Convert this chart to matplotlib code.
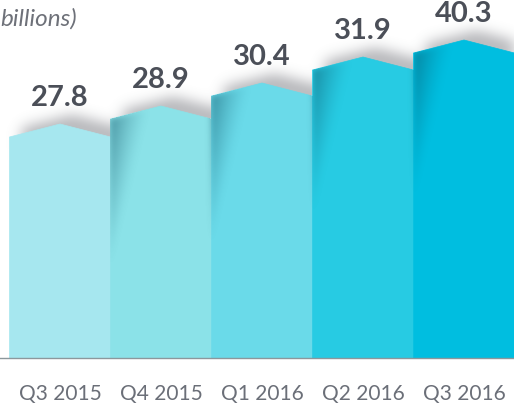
import numpy as np
import matplotlib
matplotlib.use('Agg')
import matplotlib.pyplot as plt
from matplotlib.path import Path
from matplotlib.patches import Polygon

# ---- data ----
quarters = ["Q3 2015", "Q4 2015", "Q1 2016", "Q2 2016", "Q3 2016"]
values = [27.8, 28.9, 30.4, 31.9, 40.3]
# drawn heights of the bar peaks (the original chart is stylised, not to scale)
shape_heights = [23.4, 25.2, 27.5, 30.1, 31.8]
bar_colors = ["#A6E7EF", "#8BE2E8", "#6ADAE9", "#27CBE3", "#00BEE0"]
title_text = "billions)"

# ---- layout ----
W, H = 514, 404
fig = plt.figure(figsize=(W / 100, H / 100), dpi=100)
base_px = 46
ax = fig.add_axes([0, base_px / H, 1, 1 - base_px / H])
XMIN, XMAX = -0.594, 4.495
YMAX = 35.8
DROP = 1.3


def pent(i, h, dx=0.0, dy=0.0):
    c = i + dx
    return [(c - 0.5, dy), (c - 0.5, h - DROP + dy), (c, h + dy),
            (c + 0.5, h - DROP + dy), (c + 0.5, dy)]


def top_edge(x, c, h):
    return h - DROP * np.clip(np.abs(x - c) / 0.5, 0, 1)


def blur(a, s):
    r = int(3 * s)
    k = np.exp(-0.5 * (np.arange(-r, r + 1) / s) ** 2)
    k /= k.sum()
    a = np.apply_along_axis(lambda v: np.convolve(v, k, mode='same'), 0, a)
    a = np.apply_along_axis(lambda v: np.convolve(v, k, mode='same'), 1, a)
    return a


nx, ny = W, H - base_px
xs = XMIN + (np.arange(nx) + 0.5) * (XMAX - XMIN) / nx
ys = YMAX - (np.arange(ny) + 0.5) * YMAX / ny
X, Y = np.meshgrid(xs, ys)
pts = np.column_stack([X.ravel(), Y.ravel()])
px_x = nx / (XMAX - XMIN)
px_y = ny / YMAX

# ---- drop shadows behind bars (cast up and to the right) ----
sh = np.zeros((ny, nx))
for i, h in enumerate(shape_heights):
    dx, dy = 0.12, 0.8
    inside = Path(pent(i, h, dx, dy)).contains_points(pts).reshape(ny, nx)
    depth = (top_edge(X, i + dx, h + dy) - Y) * px_y
    sh = np.maximum(sh, inside * np.exp(-np.clip(depth, 0, None) / 30))
sh = blur(sh, 7)
rgba = np.zeros((ny, nx, 4))
rgba[..., 0], rgba[..., 1], rgba[..., 2] = 0.33, 0.34, 0.37
rgba[..., 3] = np.clip(0.6 * sh, 0, 1)
ax.imshow(rgba, extent=(XMIN, XMAX, 0, YMAX), origin='upper', aspect='auto',
          zorder=1, interpolation='bilinear')

# ---- bars ----
for i, h in enumerate(shape_heights):
    ax.add_patch(Polygon(pent(i, h), closed=True, facecolor=bar_colors[i],
                         edgecolor=bar_colors[i], lw=0.5, zorder=2))

# ---- left-edge fold shading ----
wd = np.zeros((ny, nx))
bar_mask = np.zeros((ny, nx), dtype=bool)
for i, h in enumerate(shape_heights):
    inside = Path(pent(i, h)).contains_points(pts).reshape(ny, nx)
    if i == 0:
        continue
    bar_mask |= inside
    dxp = (X - (i - 0.5)) * px_x
    dtop = (top_edge(X, i, h) - Y) * px_y
    L = 150
    fade = np.clip(1 - dtop / L, 0, 1)
    w = 40 * fade + 1e-6
    a = np.clip(1 - dxp / w, 0, 1) ** 1.4 * fade
    wd += inside * a
wd = blur(wd, 3) * bar_mask
rgba2 = np.zeros((ny, nx, 4))
rgba2[..., 0], rgba2[..., 1], rgba2[..., 2] = 0.04, 0.30, 0.38
rgba2[..., 3] = np.clip(0.5 * wd, 0, 1)
ax.imshow(rgba2, extent=(XMIN, XMAX, 0, YMAX), origin='upper', aspect='auto',
          zorder=3, interpolation='bilinear')

# ---- value labels ----
for i, (h, v) in enumerate(zip(shape_heights, values)):
    ax.text(i, h + 2.6, f"{v:.1f}", ha='center', va='center', fontsize=21,
            fontweight='bold', family='Lato', color='#4B4F58', zorder=5)

ax.set_xlim(XMIN, XMAX)
ax.set_ylim(0, YMAX)
ax.set_xticks(range(len(quarters)))
ax.set_xticklabels(quarters, fontsize=15, color='#6B6F78', family='Lato')
ax.tick_params(axis='x', length=0, pad=19)
ax.set_yticks([])
for s in ['top', 'left', 'right']:
    ax.spines[s].set_visible(False)
ax.spines['bottom'].set_color('#8C979C')
ax.spines['bottom'].set_linewidth(1)
ax.spines['bottom'].set_zorder(4)
ax.set_facecolor('white')

fig.text(0.0, 1 - 19 / H, title_text, ha='left', va='center', fontsize=17.5,
         style='italic', family='Lato', color='#6E7179')

fig.savefig('out.png', dpi=100, facecolor='white')
